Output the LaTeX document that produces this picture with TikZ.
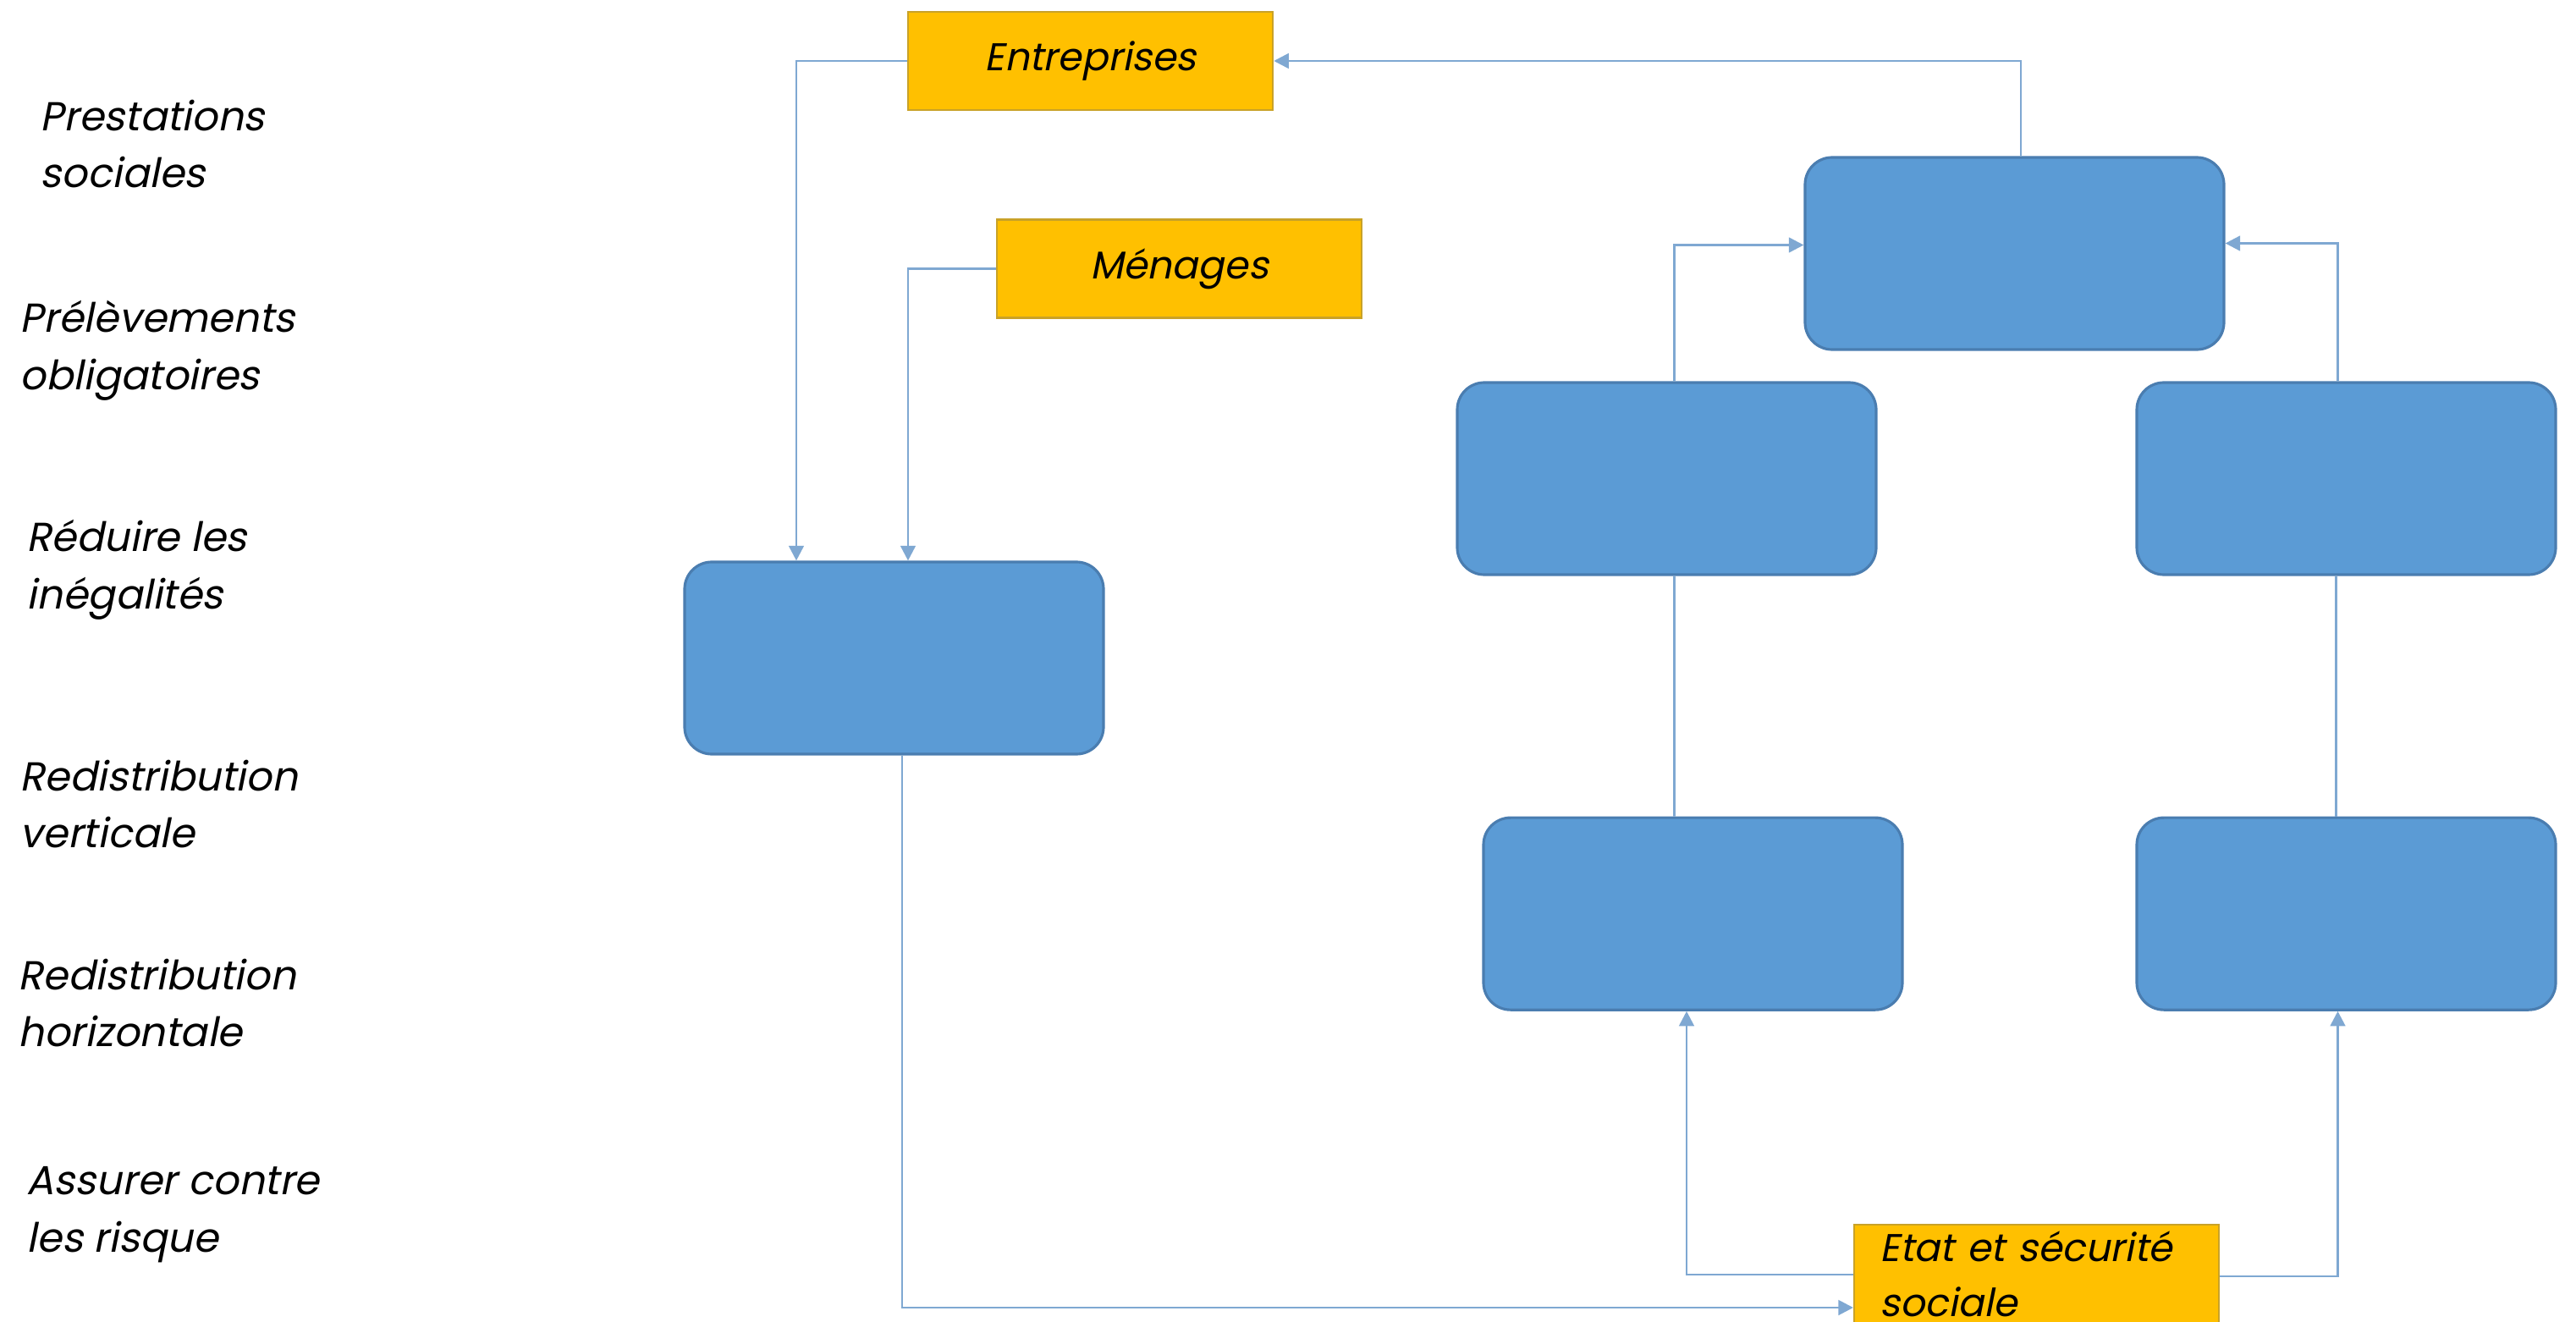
\documentclass[tikz,border=0pt]{standalone}
\usepackage{fontspec}
\setmainfont{Poppins}[AutoFakeSlant=0.2]
\usepackage{xcolor}
\usepackage{tikz}
\usetikzlibrary{arrows.meta, positioning}
\definecolor{boxblue}{HTML}{5B9BD5}
\definecolor{boxedge}{HTML}{4A7DB0}
\definecolor{linkblue}{HTML}{7FA8D2}
\definecolor{actor}{HTML}{FFC000}
\definecolor{actoredge}{HTML}{C9A227}
\tikzstyle{empty} = [rectangle, rounded corners=0.32cm, minimum width=4.95cm, minimum height=2.27cm, fill=boxblue, draw=boxedge, line width=0.9pt]
\tikzstyle{agent} = [rectangle, minimum width=4.31cm, minimum height=1.16cm, text centered, fill=actor, draw=actoredge, line width=0.7pt, font=\fontsize{13}{19}\selectfont\itshape]
\tikzstyle{label} = [inner sep=0pt, anchor=west, align=left, font=\fontsize{13.6}{19.3}\selectfont\itshape]
\tikzstyle{link} = [draw=linkblue, line width=0.8pt]
\tikzstyle{flow} = [link, -{Triangle[length=5pt, width=5pt]}]

\begin{document}
\begin{tikzpicture}
		\useasboundingbox (0,0) rectangle (30.44,-15.62);
		% left column of labels
		\node (Prestations)[label] at (0.47,-1.70) {Prestations\\sociales};
		\node (Prelevements)[label] at (0.23,-4.14) {Prélèvements\\obligatoires};
		\node (Reduire)[label] at (0.31,-6.73) {Réduire les\\inégalités};
		\node (Verticale)[label] at (0.23,-9.50) {Redistribution\\verticale};
		\node (Horizontale)[label] at (0.21,-11.85) {Redistribution\\horizontale};
		\node (Risques)[label] at (0.31,-14.35) {Assurer contre\\les risque};
		% actors
		\node (Entreprises)[agent] at (12.885,-0.72) {Entreprises};
		\node (Menages)[agent] at (13.935,-3.175) {Ménages};
		\node (Etat)[agent, anchor=north west, text width=3.7cm, align=left, inner xsep=0.3cm, inner ysep=0.05cm, font=\fontsize{13}{18.5}\selectfont\itshape] at (21.90,-14.46) {Etat et sécurité\\sociale};
		% empty boxes
		\node (Left)[empty] at (10.565,-7.775) {};
		\node (Top)[empty] at (23.805,-2.995) {};
		\node (MidLeft)[empty] at (19.695,-5.655) {};
		\node (MidRight)[empty] at (27.725,-5.655) {};
		\node (BotLeft)[empty, below = 2.84cm of MidLeft, xshift=0.31cm] {};
		\node (BotRight)[empty, below = 2.84cm of MidRight] {};
		% connectors
		\draw [flow] (Entreprises.west) -| ([xshift=-1.155cm]Left.north);
		\draw [flow] (Menages.west) -| ([xshift=0.165cm]Left.north);
		\draw [flow] ([xshift=0.095cm]Left.south) |- ([yshift=-0.99cm]Etat.north west);
		\draw [flow] ([yshift=-0.60cm]Etat.north west) -| ([xshift=-0.075cm]BotLeft.south);
		\draw [flow] ([yshift=-0.62cm]Etat.north east) -| ([xshift=-0.10cm]BotRight.south);
		\draw [link] ([xshift=-0.22cm]BotLeft.north) -- ([xshift=0.09cm]MidLeft.south);
		\draw [link] ([xshift=-0.12cm]BotRight.north) -- ([xshift=-0.12cm]MidRight.south);
		\draw [flow] ([xshift=0.09cm]MidLeft.north) |- ([yshift=0.10cm]Top.west);
		\draw [flow] ([xshift=-0.10cm]MidRight.north) |- ([yshift=0.12cm]Top.east);
		\draw [flow] ([xshift=0.075cm]Top.north) |- (Entreprises.east);
	\end{tikzpicture}
\end{document}
